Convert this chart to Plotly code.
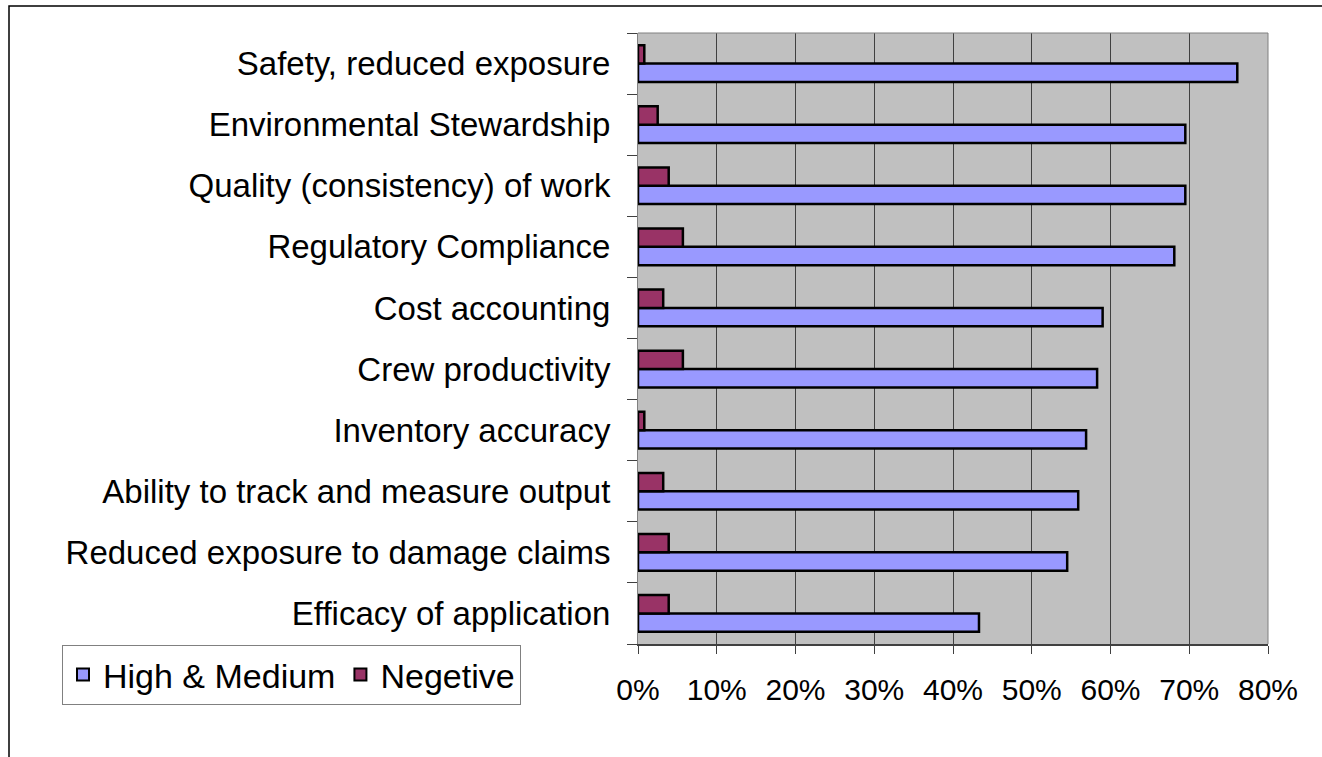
import plotly.graph_objects as go

categories = [
    "Efficacy of application",
    "Reduced exposure to damage claims",
    "Ability to track and measure output",
    "Inventory accuracy",
    "Crew productivity",
    "Cost accounting",
    "Regulatory Compliance",
    "Quality (consistency) of work",
    "Environmental Stewardship",
    "Safety, reduced exposure",
]
high_medium = [0.433, 0.545, 0.559, 0.569, 0.583, 0.590, 0.681, 0.695, 0.695, 0.761]
negative = [0.039, 0.039, 0.032, 0.008, 0.057, 0.032, 0.057, 0.039, 0.025, 0.008]
x_ticks = [0, 0.1, 0.2, 0.3, 0.4, 0.5, 0.6, 0.7, 0.8]
x_labels = ["0%", "10%", "20%", "30%", "40%", "50%", "60%", "70%", "80%"]

FONT = "Liberation Sans, Arial, sans-serif"

fig = go.Figure()
fig.add_trace(go.Bar(
    name="High & Medium", y=categories, x=high_medium, orientation="h",
    marker=dict(color="#9999FF", line=dict(color="#000000", width=2.5)),
))
fig.add_trace(go.Bar(
    name="Negetive", y=categories, x=negative, orientation="h",
    marker=dict(color="#993366", line=dict(color="#000000", width=2.5)),
))

L, R, T, B = 638, 1268, 33, 644
W, H = 1322, 757
pw, ph = R - L, B - T

def px(xp):
    return (xp - L) / pw

def py(yp):
    return (B - yp) / ph

fig.update_layout(
    width=W, height=H,
    margin=dict(l=L, r=W - R, t=T, b=H - B, pad=0),
    paper_bgcolor="white",
    plot_bgcolor="#C0C0C0",
    barmode="group",
    bargap=0.4,
    bargroupgap=0,
    font=dict(family=FONT, size=33, color="black"),
    showlegend=True,
    legend=dict(
        orientation="h",
        x=px(62), y=py(645), xanchor="left", yanchor="top",
        bgcolor="white", bordercolor="#808080", borderwidth=1,
        font=dict(family=FONT, size=34, color="black"),
        traceorder="normal",
        itemsizing="constant",
        itemwidth=30,
    ),
    xaxis=dict(
        range=[0, 0.8], tickvals=x_ticks, ticktext=x_labels,
        showgrid=True, gridcolor="#404040", gridwidth=1,
        ticks="outside", ticklen=8, tickcolor="#404040", tickwidth=1,
        showline=True, linecolor="#404040", linewidth=2, mirror=False,
        zeroline=False,
        tickfont=dict(family=FONT, size=30, color="black"),
        ticklabelstandoff=10,
        fixedrange=True,
    ),
    yaxis=dict(
        type="category", categoryorder="array", categoryarray=categories,
        tickson="boundaries", ticks="outside", ticklen=10, tickcolor="#404040",
        showline=True, linecolor="#808080", linewidth=1,
        showgrid=False, zeroline=False,
        tickfont=dict(family=FONT, size=33, color="black"),
        ticklabelstandoff=20,
        fixedrange=True,
    ),
    shapes=[
        # plot area border (top and right)
        dict(type="line", xref="paper", yref="paper", x0=0, x1=1, y0=1, y1=1,
             line=dict(color="#808080", width=1)),
        dict(type="line", xref="paper", yref="paper", x0=1, x1=1, y0=0, y1=1,
             line=dict(color="#808080", width=1)),
        # outer chart frame
        dict(type="rect", xref="paper", yref="paper",
             x0=px(9), x1=px(1330), y0=py(770), y1=py(6),
             line=dict(color="#000000", width=1.5), fillcolor="rgba(0,0,0,0)",
             layer="below"),
    ],
)

fig.write_html("out.html")
